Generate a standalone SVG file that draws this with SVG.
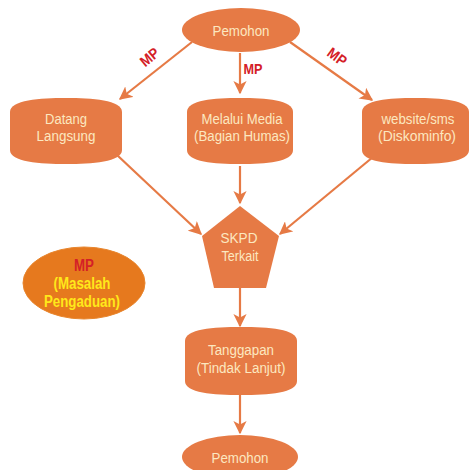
<svg xmlns="http://www.w3.org/2000/svg" width="470" height="470" viewBox="0 0 470 470">
<style>
.shape{fill:#E67A45}
.t{font-family:"Liberation Sans",Arial,sans-serif;font-size:15.5px;fill:#FCE8C0;text-anchor:middle}
.mp{font-family:"Liberation Sans",Arial,sans-serif;font-size:15px;font-weight:bold;fill:#D42027;text-anchor:middle}
.y{font-family:"Liberation Sans",Arial,sans-serif;font-size:16px;font-weight:bold;fill:#FFE81A;text-anchor:middle}
.c{stroke:#E67A45;stroke-width:2.2;fill:none;marker-end:url(#ah)}
</style>
<defs>
<marker id="ah" viewBox="0 0 10 10" refX="9" refY="5" markerWidth="6" markerHeight="6" markerUnits="strokeWidth" orient="auto">
<path d="M0,0 L10,5 L0,10 L2.5,5 Z" fill="#E67A45"/>
</marker>
</defs>
<rect width="470" height="470" fill="#ffffff"/>
<g id="connectors">
<line class="c" x1="192" y1="42" x2="120" y2="99"/>
<line class="c" x1="240" y1="53" x2="240" y2="93"/>
<line class="c" x1="290" y1="42" x2="372" y2="100"/>
<line class="c" x1="117" y1="155" x2="201" y2="234"/>
<line class="c" x1="240" y1="166" x2="240" y2="203"/>
<line class="c" x1="373" y1="157" x2="280" y2="234"/>
<line class="c" x1="240" y1="288" x2="240" y2="326"/>
<line class="c" x1="240" y1="395" x2="240" y2="433"/>
<text class="mp" transform="translate(153,61) rotate(-40)" textLength="20" lengthAdjust="spacingAndGlyphs">MP</text>
<text class="mp" x="253" y="74" textLength="19" lengthAdjust="spacingAndGlyphs">MP</text>
<text class="mp" transform="translate(334,61) rotate(36)" textLength="20" lengthAdjust="spacingAndGlyphs">MP</text>
</g>
<g id="pemohon-top">
<ellipse class="shape" cx="241" cy="30" rx="59" ry="22"/>
<text class="t" x="241" y="36" textLength="57" lengthAdjust="spacingAndGlyphs">Pemohon</text>
</g>
<g id="datang">
<path class="shape" d="M10,112 C10,100 40,98 66,98 C92,98 122,100 122,112 L122,150 C122,162 92,164 66,164 C40,164 10,162 10,150 Z"/>
<text class="t" x="66" y="124" textLength="42" lengthAdjust="spacingAndGlyphs">Datang</text>
<text class="t" x="66" y="141" textLength="59" lengthAdjust="spacingAndGlyphs">Langsung</text>
</g>
<g id="media">
<path class="shape" d="M187,112 C187,100 214,98 240,98 C266,98 293,100 293,112 L293,150 C293,162 266,164 240,164 C214,164 187,162 187,150 Z"/>
<text class="t" x="242" y="124" textLength="81" lengthAdjust="spacingAndGlyphs">Melalui Media</text>
<text class="t" x="242" y="141" textLength="96" lengthAdjust="spacingAndGlyphs">(Bagian Humas)</text>
</g>
<g id="website">
<path class="shape" d="M362,112 C362,100 389,98 415,98 C441,98 469,100 469,112 L469,150 C469,162 441,164 415,164 C389,164 362,162 362,150 Z"/>
<text class="t" x="418" y="124" textLength="73" lengthAdjust="spacingAndGlyphs">website/sms</text>
<text class="t" x="417" y="141" textLength="78" lengthAdjust="spacingAndGlyphs">(Diskominfo)</text>
</g>
<g id="skpd">
<polygon class="shape" points="240,206 279,236 266,288 214,288 202,236"/>
<text class="t" x="239" y="243" textLength="37" lengthAdjust="spacingAndGlyphs">SKPD</text>
<text class="t" x="240" y="261" textLength="37" lengthAdjust="spacingAndGlyphs">Terkait</text>
</g>
<g id="legend">
<ellipse cx="84" cy="283" rx="61" ry="36" fill="#E6791E" stroke="#E8862E" stroke-width="1"/>
<text class="mp" x="84" y="271" style="font-size:16px" textLength="20" lengthAdjust="spacingAndGlyphs">MP</text>
<text class="y" x="82" y="289" textLength="57" lengthAdjust="spacingAndGlyphs">(Masalah</text>
<text class="y" x="82" y="307" textLength="76" lengthAdjust="spacingAndGlyphs">Pengaduan)</text>
</g>
<g id="tanggapan">
<path class="shape" d="M185,341 C185,329 213,327 241,327 C269,327 297,329 297,341 L297,381 C297,393 269,395 241,395 C213,395 185,393 185,381 Z"/>
<text class="t" x="241" y="355" textLength="66" lengthAdjust="spacingAndGlyphs">Tanggapan</text>
<text class="t" x="241" y="373" textLength="89" lengthAdjust="spacingAndGlyphs">(Tindak Lanjut)</text>
</g>
<g id="pemohon-bottom">
<ellipse class="shape" cx="240" cy="457" rx="58" ry="22"/>
<text class="t" x="240" y="463" textLength="57" lengthAdjust="spacingAndGlyphs">Pemohon</text>
</g>
</svg>
